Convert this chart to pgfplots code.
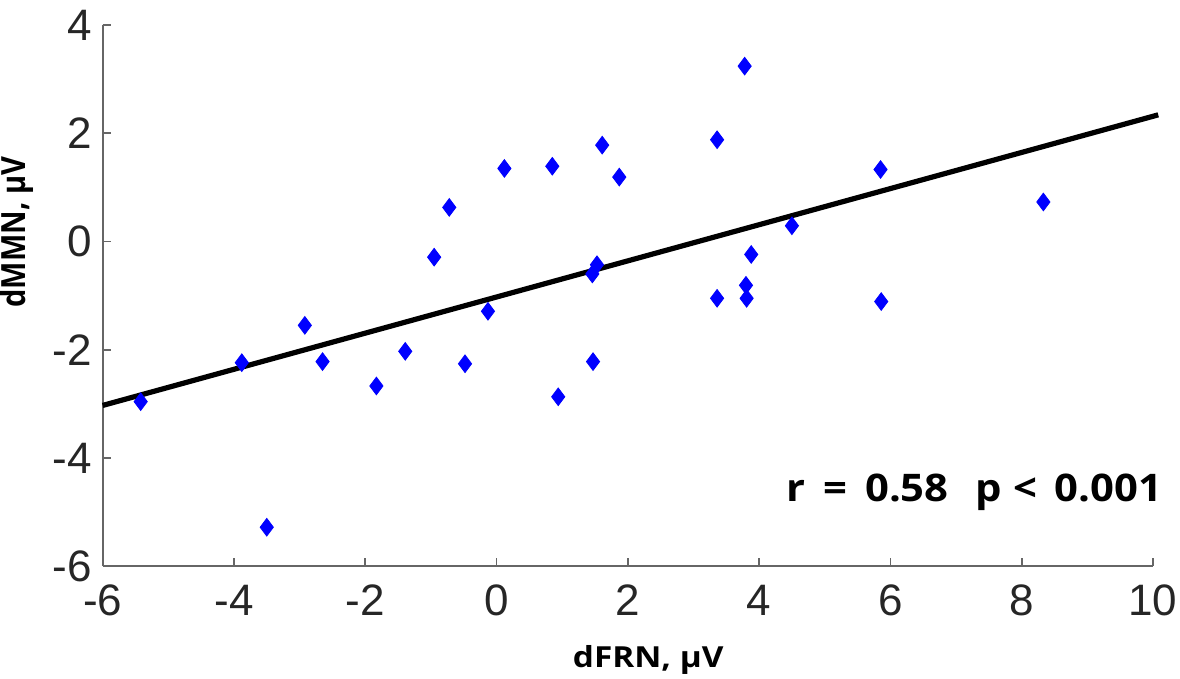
\documentclass[border=0pt]{standalone}
\usepackage{fontspec}
\setmainfont{Liberation Sans}
\newfontfamily\lab{Open Sans}
\usepackage{pgfplots}
\pgfplotsset{compat=1.18}
\usetikzlibrary{calc}

\begin{document}
\begin{tikzpicture}
\begin{axis}[
    scale only axis,
    width=525pt, height=270.5pt,
    xmin=-6, xmax=10, ymin=-6, ymax=4,
    xtick={-6,-4,...,10}, ytick={-6,-4,...,4},
    axis x line*=bottom, axis y line*=left,
    axis line style={gray!80!black, line width=0.9pt},
    tick style={gray!80!black, line width=0.9pt},
    major tick length=4pt, tick align=inside,
    tick label style={font=\fontsize{22}{24}\selectfont, text=black!85},
    /pgf/number format/assume math mode=true,
    xticklabel style={yshift=-6pt},
    yticklabel style={xshift=-2pt},
    clip=false,
]
\addplot[only marks, mark=diamond*, mark size=4.4pt, color=blue] table {
x y
-2.92 -1.55
-0.95 -0.29
-0.72 0.63
0.12 1.35
0.85 1.39
-0.13 -1.29
1.46 -0.60
1.53 -0.43
1.61 1.78
1.87 1.19
3.36 1.88
3.78 3.24
5.85 1.33
8.33 0.73
4.50 0.29
3.88 -0.24
3.80 -0.81
3.81 -1.05
3.36 -1.05
5.86 -1.11
-5.42 -2.96
-3.88 -2.24
-2.65 -2.22
-1.83 -2.67
-1.39 -2.03
-0.48 -2.26
0.94 -2.87
1.47 -2.22
-3.50 -5.28
};
\addplot[black, line width=2.6pt] coordinates {(-6,-3.03) (10.08,2.34)};
\node[anchor=east, xscale=1.1, font=\lab\bfseries\fontsize{19}{21}\selectfont] at (axis cs:10.26,-4.63) {r\,\ =\ \,0.58\hspace{0.65em}p\ <\ \,0.001};
\coordinate (ll) at (rel axis cs:0,0);
\coordinate (ur) at (rel axis cs:1,1);
\end{axis}
\node[font=\lab\bfseries\fontsize{14.5}{16}\selectfont, rotate=90, yscale=1.15] at ($(ll)+(-42.8pt,167pt)$) {dMMN, µV};
\node[font=\lab\bfseries\fontsize{14.5}{16}\selectfont, xscale=1.15] at ($(ll)+(272.7pt,-47pt)$) {dFRN, µV};
\pgfresetboundingbox
\path[use as bounding box] ($(ll)+(-51.3pt,-56pt)$) rectangle ($(ur)+(13.5pt,12.5pt)$);
\end{tikzpicture}
\end{document}
